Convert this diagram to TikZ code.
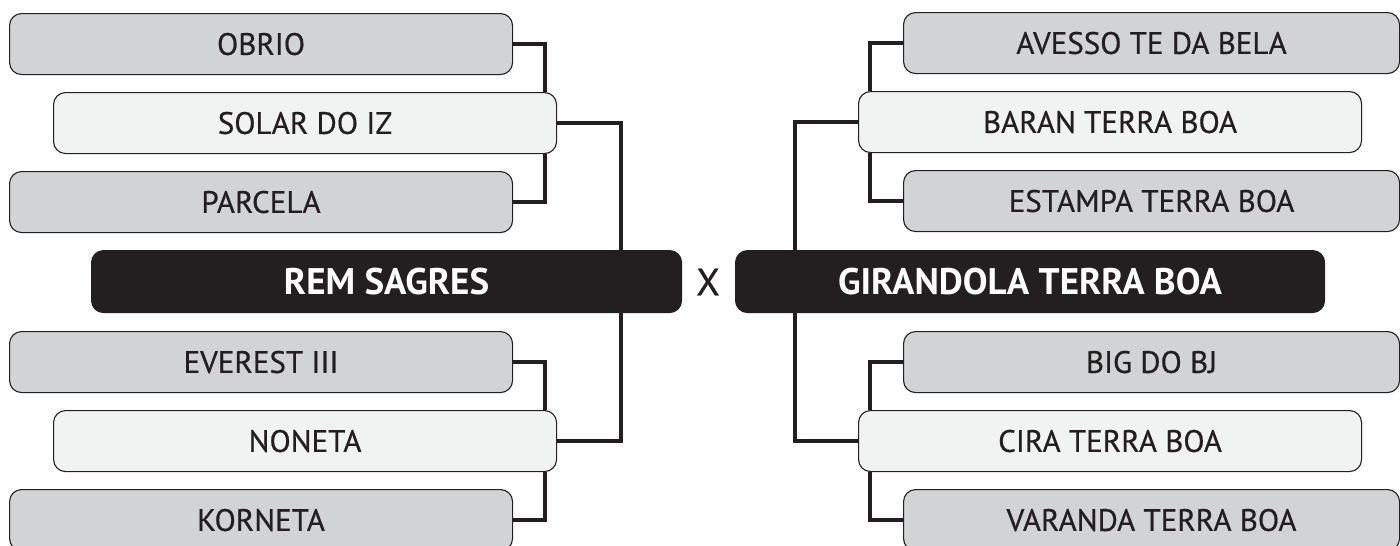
\documentclass[tikz,border=0pt]{standalone}
\usepackage{fontspec}
\setmainfont{PT Sans}[UprightFeatures={FakeBold=0.6}]
\usetikzlibrary{backgrounds}
\definecolor{ink}{HTML}{231F20}
\definecolor{grayfill}{HTML}{D1D3D4}
\definecolor{lightfill}{HTML}{F1F2F2}
\tikzset{
  basebox/.style={draw=ink, line width=1.1pt, rounded corners=12pt, anchor=north west,
    minimum height=61pt, inner sep=0pt, text=ink, font=\fontsize{31}{34}\selectfont},
  graybox/.style={basebox, fill=grayfill, minimum width=503pt},
  rgraybox/.style={basebox, fill=grayfill, minimum width=496pt},
  lightbox/.style={basebox, fill=lightfill, minimum width=503pt},
  mainbox/.style={basebox, fill=ink, text=white, minimum width=590pt, minimum height=62pt,
    font=\bfseries\fontsize{37}{40}\selectfont},
  conn/.style={draw=ink, line width=4.5pt}
}
\begin{document}
\begin{tikzpicture}[x=1pt,y=-1pt]
\clip (0,0) rectangle (1400,546);
% left side
\node[graybox]  (obrio)  at (9,13)   {OBRIO};
\node[lightbox] (solar)  at (53,92)  {SOLAR DO IZ};
\node[graybox]  (parcela) at (9,171) {PARCELA};
\node[mainbox]  (rem)    at (91,250) {REM SAGRES};
\node[graybox]  (everest) at (9,331) {EVEREST III};
\node[lightbox] (noneta) at (53,410) {NONETA};
\node[graybox]  (korneta) at (9,489) {KORNETA};
% right side
\node[rgraybox] (avesso)  at (903,12)  {AVESSO TE DA BELA};
\node[lightbox] (baran)   at (858,91)  {BARAN TERRA BOA};
\node[rgraybox] (estampa) at (903,170) {ESTAMPA TERRA BOA};
\node[mainbox, minimum width=589pt] (gir) at (735,250) {GIRANDOLA TERRA BOA};
\node[rgraybox] (big)     at (903,331) {BIG DO BJ};
\node[lightbox] (cira)    at (858,410) {CIRA TERRA BOA};
\node[rgraybox] (varanda) at (903,489) {VARANDA TERRA BOA};
\node[text=ink, font=\fontsize{38}{40}\selectfont, inner sep=0pt] (vs) at (708,282) {X};
\begin{scope}[on background layer]
\draw[conn] (obrio.east) -| ([xshift=-12pt]solar.north east);
\draw[conn] (parcela.east) -| ([xshift=-12pt]solar.south east);
\draw[conn] (solar.east) -| ([xshift=-61pt]rem.north east);
\draw[conn] (everest.east) -| ([xshift=-12pt]noneta.north east);
\draw[conn] (korneta.east) -| ([xshift=-12pt]noneta.south east);
\draw[conn] (noneta.east) -| ([xshift=-61pt]rem.south east);
\draw[conn] (avesso.west) -| ([xshift=12pt]baran.north west);
\draw[conn] (estampa.west) -| ([xshift=12pt]baran.south west);
\draw[conn] (baran.west) -| ([xshift=60pt]gir.north west);
\draw[conn] (big.west) -| ([xshift=12pt]cira.north west);
\draw[conn] (varanda.west) -| ([xshift=12pt]cira.south west);
\draw[conn] (cira.west) -| ([xshift=60pt]gir.south west);
\end{scope}
\end{tikzpicture}
\end{document}
